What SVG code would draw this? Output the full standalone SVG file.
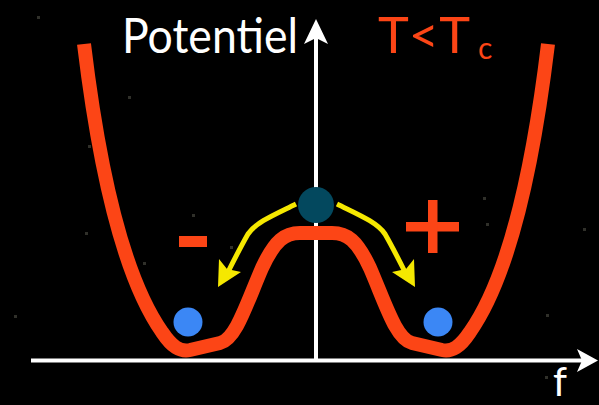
<svg xmlns="http://www.w3.org/2000/svg" width="599" height="405" viewBox="0 0 599 405">
  <style>
    .axis { stroke: #ffffff; stroke-width: 4; fill: none; }
    .head { fill: #ffffff; }
    .curve { stroke: #fc4516; stroke-width: 14; fill: none; stroke-linejoin: round; }
    .yarrow { stroke: #f5e800; stroke-width: 5; fill: none; }
    .yhead { fill: #f5e800; }
    .star { fill: #8a8a78; }
    .lbl { font-family: "Lato", "Liberation Sans", sans-serif; }
  </style>
  <rect x="0" y="0" width="599" height="405" fill="#000000"/>
  <g id="stars" opacity="0.35">
    <rect class="star" x="88" y="145" width="3" height="3"/>
    <rect class="star" x="85" y="232" width="3" height="3"/>
    <rect class="star" x="143" y="262" width="3" height="3"/>
    <rect class="star" x="128" y="96" width="3" height="3"/>
    <rect class="star" x="486" y="223" width="3" height="3"/>
    <rect class="star" x="546" y="314" width="3" height="3"/>
    <rect class="star" x="483" y="197" width="3" height="3"/>
    <rect class="star" x="583" y="228" width="3" height="3"/>
    <rect class="star" x="545" y="376" width="3" height="3"/>
    <rect class="star" x="37" y="16" width="3" height="3"/>
    <rect class="star" x="432" y="228" width="3" height="3"/>
    <rect class="star" x="192" y="214" width="3" height="3"/>
    <rect class="star" x="230" y="246" width="3" height="3"/>
    <rect class="star" x="14" y="315" width="3" height="3"/>
  </g>
  <g id="connectors">
    <g id="x-axis">
      <line class="axis" x1="31" y1="360.5" x2="584" y2="360.5"/>
      <polygon class="head" points="598,360.5 577,349 582,360.5 577,372"/>
    </g>
    <g id="y-axis">
      <line class="axis" x1="316" y1="360" x2="316" y2="38"/>
      <polygon class="head" points="316,19 328,44 316,38 304,44"/>
    </g>
    <g id="arrow-left">
      <path class="yarrow" d="M296,204 C276,214 256,222 248,234 C240,248 233,262 228,272"/>
      <polygon class="yhead" points="218,287 219,259 227,269 241,272"/>
    </g>
    <g id="arrow-right">
      <path class="yarrow" d="M337,204 C357,214 377,222 385,234 C393,248 400,262 405,272"/>
      <polygon class="yhead" points="415,287 414,259 406,269 392,272"/>
    </g>
  </g>
  <g id="potential-curve">
    <path class="curve" d="M84,44 C98,160 122,275 162,332 C172,347 180,352 190,350 L220,343 C236,339 246,305 262,268 C275,240 285,233 300,233 L332,233 C347,233 357,240 370,268 C386,305 396,339 412,343 L442,350 C452,352 460,347 470,332 C510,275 534,160 548,44"/>
  </g>
  <g id="ball-top">
    <circle cx="316" cy="205" r="18" fill="#03485e"/>
  </g>
  <g id="ball-left">
    <circle cx="188" cy="322" r="14.5" fill="#3b87f5"/>
  </g>
  <g id="ball-right">
    <circle cx="438" cy="322" r="14.5" fill="#3b87f5"/>
  </g>
  <g id="minus-sign">
    <rect x="179" y="236" width="28" height="11" fill="#fc4516"/>
  </g>
  <g id="plus-sign">
    <rect x="406" y="222" width="53" height="9.5" fill="#fc4516"/>
    <rect x="428" y="200" width="9.5" height="53" fill="#fc4516"/>
  </g>
  <g id="label-potentiel">
    <text class="lbl" x="122" y="53" font-size="48" fill="#ffffff" textLength="176" lengthAdjust="spacingAndGlyphs">Potentiel</text>
  </g>
  <g id="label-temp">
    <text class="lbl" x="378" y="53" font-size="50" fill="#fc4516" textLength="92" lengthAdjust="spacingAndGlyphs">T&lt;T</text>
    <text class="lbl" x="478" y="59" font-size="30" fill="#fc4516">c</text>
  </g>
  <g id="label-f">
    <text class="lbl" x="553" y="396" font-size="40" fill="#ffffff">f</text>
  </g>
</svg>
